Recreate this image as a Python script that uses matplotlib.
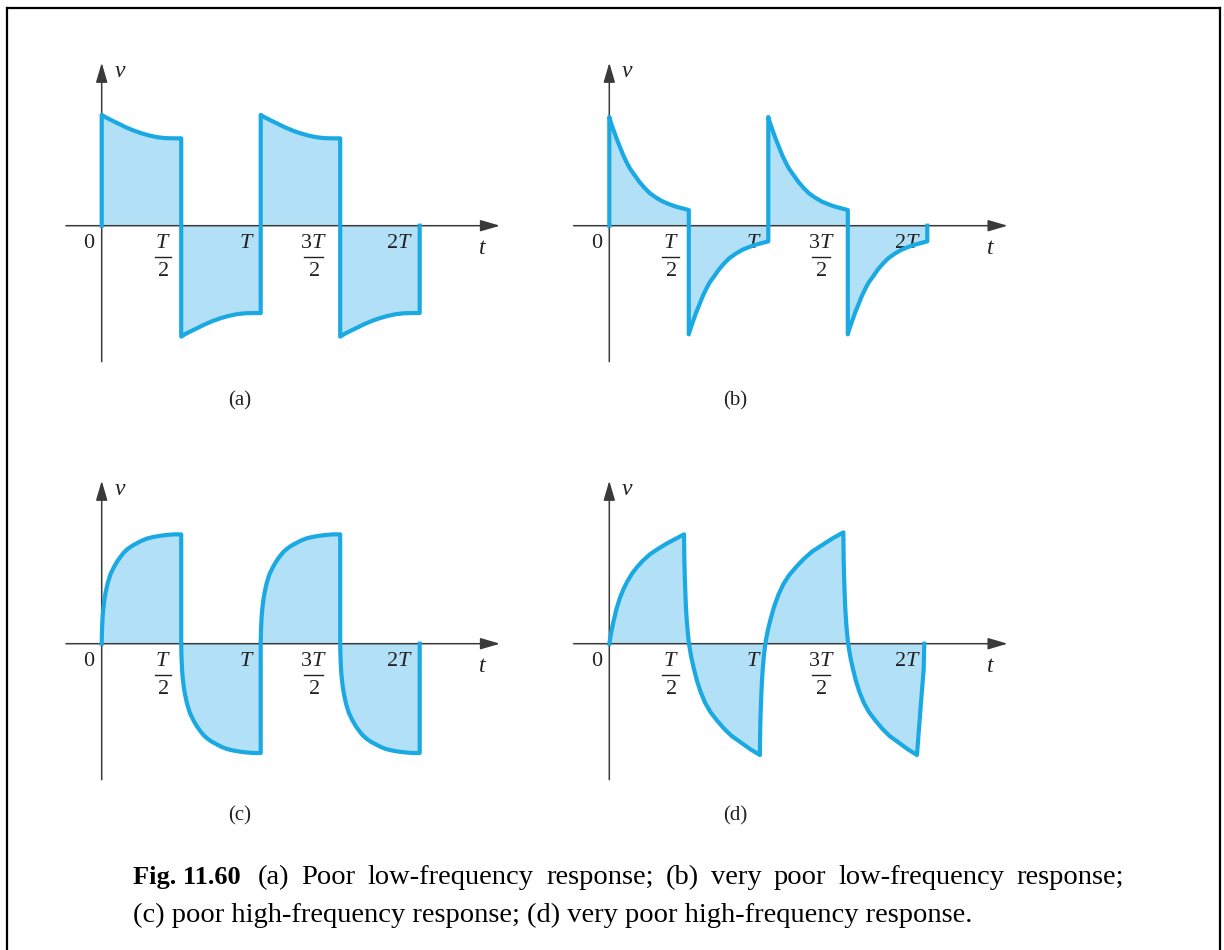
import matplotlib
matplotlib.use("Agg")
import matplotlib.pyplot as plt
from matplotlib.lines import Line2D

plt.rcParams['font.family'] = ['Liberation Serif', 'DejaVu Serif']
plt.rcParams['mathtext.fontset'] = 'custom'
plt.rcParams['mathtext.rm'] = 'Liberation Serif'
plt.rcParams['mathtext.it'] = 'Liberation Serif:italic'
plt.rcParams['mathtext.bf'] = 'Liberation Serif:bold'

W, H, DPI = 1224, 950, 100
SX, SY = 159.0, 112.0          # pixels per period T, pixels per unit amplitude
LINE = '#1aa9e2'
FILL = '#b2e0f6'
AXIS = '#3a3a3a'
INK = '#222222'

# ---- waveform data (amplitude normalised to the ideal square wave) ----
# one half-period of each response; time given as fraction of the half-period
a_frac = [0, .05, .1, .15, .2, .3, .4, .5, .6, .7, .8, .9, 1.0]
a_level = [0.99, 0.968, 0.95, 0.932, 0.915, 0.88, 0.85, 0.825, 0.805, 0.79, 0.782, 0.78, 0.78]

b_frac = [0, .03, .05, .09, .13, .175, .215, .26, .32, .38, .44, .51, .59, .675, .76, .84, .92, 1.0]
b_level = [0.97, 0.90, 0.86, 0.78, 0.71, 0.63, 0.57, 0.51, 0.45, 0.39, 0.34, 0.29, 0.25,
           0.215, 0.19, 0.17, 0.155, 0.14]

c_frac = [0, .002, .006, .0125, .02, .033, .05, .075, .11, .158, .2, .24, .28, .325,
          .385, .45, .51, .575, .65, .74, .82, .908, 1.0]
c_level = [0, .08, .16, .25, .31, .39, .46, .54, .62, .69, .74, .78, .815, .845,
           .875, .90, .922, .94, .953, .964, .971, .976, .976]

half_edges = [0, 0.5, 1.0, 1.5, 2.0]

# (d): first rise from zero, then full swings between the extremes
d_rise_t = [0, .012, .025, .045, .067, .09, .115, .145, .172, .21, .257, .31, .362, .415, .47]
d_rise_v = [0, .10, .19, .31, .41, .49, .56, .63, .68, .74, .80, .85, .895, .935, .976]
d_swing_frac = [0, .002, .004, .009, .017, .025, .035, .048, .065, .095, .13, .17, .22,
                .28, .35, .44, .53, .63, .745, .87, 1.0]
d_swing_v = [.976, .87, .76, .62, .46, .33, .22, .11, 0, -.12, -.224, -.33, -.433,
             -.53, -.612, -.69, -.76, -.825, -.88, -.94, -.994]
d_turns = [0.47, 0.947, 1.472, 1.935]
d_tail_t = [1.935, 1.96, 1.977, 1.981]
d_tail_v = [-.994, -.531, -.233, 0]

# time-axis labels: plain ones and stacked fractions
plain_ticks = [0, 1.0, 2.0]
plain_text = [r'$0$', r'$T$', r'$2T$']
frac_ticks = [0.5, 1.5]
frac_num = [r'$T$', r'$3T$']
frac_den = [r'$2$', r'$2$']

panel_names = ['(a)', '(b)', '(c)', '(d)']
caption_head = 'Fig. 11.60'
caption_line1 = '(a) Poor low-frequency response; (b) very poor low-frequency response;'
caption_line2 = '(c) poor high-frequency response; (d) very poor high-frequency response.'


def square_response(edges, frac, level):
    t, v = [edges[0]], [0.0]
    for k in range(len(edges) - 1):
        s = 1 if k % 2 == 0 else -1
        for f, l in zip(frac, level):
            t.append(edges[k] + f * (edges[k + 1] - edges[k]))
            v.append(s * l)
    t.append(edges[-1])
    v.append(0.0)
    return t, v


def swing_response():
    t, v = list(d_rise_t), list(d_rise_v)
    for k in range(len(d_turns) - 1):
        s = 1 if k % 2 == 0 else -1
        t0, t1 = d_turns[k], d_turns[k + 1]
        for f, l in zip(d_swing_frac[1:], d_swing_v[1:]):
            t.append(t0 + f * (t1 - t0))
            v.append(s * l)
    t += d_tail_t[1:]
    v += d_tail_v[1:]
    return t, v


traces = [square_response(half_edges, a_frac, a_level),
          square_response(half_edges, b_frac, b_level),
          square_response(half_edges, c_frac, c_level),
          swing_response()]

origins = [(101.7, 225.7), (609.3, 225.7), (101.7, 643.7), (609.3, 643.7)]
name_pos = [(240, 401), (735, 401), (240, 816), (735, 816)]

fig = plt.figure(figsize=(W / DPI, H / DPI), dpi=DPI)

X0, X1, Y0, Y1 = -0.3, 2.6, -1.8, 1.6
LABEL_FS = 16


def px(dx):
    return dx / SX


def py(dy):
    return dy / SY


for (ox, oy), (t, v), name, (nx, ny) in zip(origins, traces, panel_names, name_pos):
    left = (ox + X0 * SX) / W
    bottom = 1 - (oy - Y0 * SY) / H
    ax = fig.add_axes([left, bottom, (X1 - X0) * SX / W, (Y1 - Y0) * SY / H])
    ax.set_xlim(X0, X1)
    ax.set_ylim(Y0, Y1)
    ax.axis('off')

    ax.fill(t, v, color=FILL, lw=0, zorder=1)

    arrow = dict(arrowstyle='-|>,head_length=0.75,head_width=0.22', color=AXIS,
                 lw=1.1, mutation_scale=16, shrinkA=0, shrinkB=0)
    ax.annotate('', xy=(2.505, 0), xytext=(-0.225, 0), arrowprops=arrow, zorder=2)
    ax.annotate('', xy=(0, 1.455), xytext=(0, -1.214), arrowprops=arrow, zorder=2)

    ax.plot(t, v, color=LINE, lw=3.0, solid_joinstyle='round', zorder=4)

    for p, s in zip(plain_ticks, plain_text):
        ax.text(p - px(6.5), -py(17.3), s, fontsize=LABEL_FS, color=INK,
                ha='right', va='center', zorder=3)
    for k, (p, num, den) in enumerate(zip(frac_ticks, frac_num, frac_den)):
        cx = p - px(18.3 if k == 0 else 26.7)
        half = px(8.3 if k == 0 else 9.2)
        ax.text(cx, -py(17.3), num, fontsize=LABEL_FS, color=INK,
                ha='center', va='center', zorder=3)
        ax.plot([cx - half, cx + half], [-py(31), -py(31)], color=INK, lw=1.0,
                zorder=3)
        ax.text(cx, -py(46), den, fontsize=LABEL_FS, color=INK,
                ha='center', va='center', zorder=3)

    ax.text(0.115, 1.375, r'$v$', fontsize=17, color=INK, ha='center', va='center')
    ax.text(2.396, -0.2, r'$t$', fontsize=17, color=INK, ha='center', va='center')

    fig.text(nx / W, 1 - ny / H, name, fontsize=15, color=INK,
             ha='center', va='center')

# caption: first line justified to the text block, second line left-aligned
CAP_FS = 20.5
fig.text(133 / W, 1 - 884 / H, caption_head, fontsize=19, fontweight='bold',
         ha='left', va='baseline')

renderer = fig.canvas.get_renderer()
words = caption_line1.split()
objs = [fig.text(0, 1 - 884 / H, w_, fontsize=CAP_FS, ha='left', va='baseline')
        for w_ in words]
widths = [o.get_window_extent(renderer=renderer).width for o in objs]
x_start, x_end = 258.0, 1124.0
gap = (x_end - x_start - sum(widths)) / (len(words) - 1)
x = x_start
for o, wd in zip(objs, widths):
    o.set_x(x / W)
    x += wd + gap

fig.text(133 / W, 1 - 922 / H, caption_line2, fontsize=CAP_FS, ha='left', va='baseline')

# frame around the figure
fx0, fx1, fy0 = 7.3 / W, 1220 / W, 1 - 8.3 / H
for xs, ys in [([fx0, fx0], [fy0, -0.1]), ([fx0, fx1], [fy0, fy0]), ([fx1, fx1], [fy0, -0.1])]:
    fig.add_artist(Line2D(xs, ys, color='black', lw=1.6, transform=fig.transFigure))

fig.savefig('out.png', dpi=DPI)
